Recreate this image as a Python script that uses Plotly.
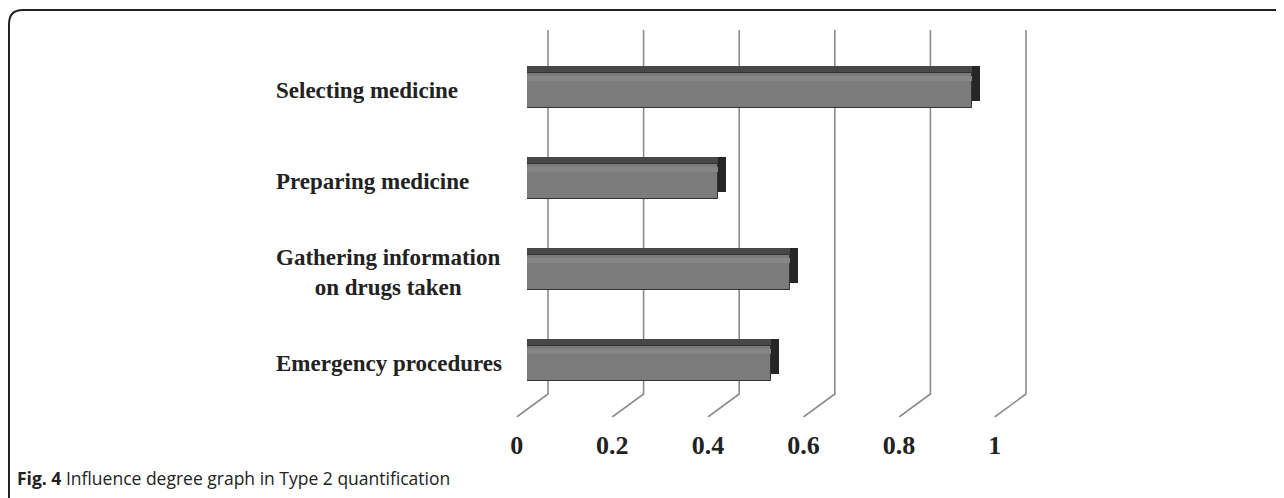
import plotly.graph_objects as go

# ---- data ----
CATEGORIES = ["Emergency procedures", "Gathering information<br>on drugs taken",
              "Preparing medicine", "Selecting medicine"]  # bottom -> top
VALUES = [0.51, 0.55, 0.40, 0.93]
TICK_VALUES = [0, 0.2, 0.4, 0.6, 0.8, 1]
TICK_LABELS = ["0", "0.2", "0.4", "0.6", "0.8", "1"]
CAPTION = "<b>Fig. 4</b> Influence degree graph in Type 2 quantification"

# ---- layout constants (screen pixels) ----
PAGE_OFF = 8            # default body margin of the html page
W, H = 1284 - PAGE_OFF, 498 - PAGE_OFF
SCALE = 478.0           # px per unit
FLOOR_X0 = 516.7        # front floor position of value 0
WALL_X0 = 548.0         # back wall position of value 0
FRONT_X0 = 527.0        # bar front face position of value 0
BACK_X0 = 535.0         # bar back face position of value 0
WALL_TOP, WALL_BOT, FLOOR_Y = 30.0, 394.0, 417.0


def fx(p):
    return (p - PAGE_OFF) / W


def fy(p):
    return 1 - (p - PAGE_OFF) / H


DEPTH_DX = (WALL_X0 - FLOOR_X0) / SCALE
WALL_BOT_FRAC = (FLOOR_Y - WALL_BOT) / (FLOOR_Y - WALL_TOP)

# wall + floor lines
lx, ly = [], []
for v in TICK_VALUES:
    lx += [v, v + DEPTH_DX, v + DEPTH_DX, None]
    ly += [0, WALL_BOT_FRAC, 1, None]

fig = go.Figure()
fig.add_trace(go.Scatter(x=lx, y=ly, mode="lines", xaxis="x", yaxis="y",
                         line=dict(color="#8c8c8c", width=1.6),
                         hoverinfo="skip", showlegend=False))

# dark side face (shifted back)
fig.add_trace(go.Bar(y=CATEGORIES, x=VALUES, orientation="h", xaxis="x2", yaxis="y2",
                     width=0.385, marker=dict(color="#262626", line=dict(width=0)),
                     hoverinfo="skip", showlegend=False))
# top face (shifted up only)
fig.add_trace(go.Bar(y=CATEGORIES, x=VALUES, orientation="h", xaxis="x3", yaxis="y2",
                     width=0.385, marker=dict(color="#474747", line=dict(width=0)),
                     hoverinfo="skip", showlegend=False))
# front face
fig.add_trace(go.Bar(y=CATEGORIES, x=VALUES, orientation="h", xaxis="x3", yaxis="y3",
                     width=0.385, marker=dict(color="#7b7b7b", line=dict(color="#333333", width=1)),
                     showlegend=False))
# highlight band on front face
fig.add_trace(go.Bar(y=CATEGORIES, x=VALUES, orientation="h", xaxis="x3", yaxis="y4",
                     width=0.055, marker=dict(color="#868686", line=dict(width=0)),
                     hoverinfo="skip", showlegend=False))

cat_axis = dict(type="category", categoryorder="array", categoryarray=CATEGORIES,
                range=[-0.5, 3.5], visible=False, fixedrange=True)

fig.update_layout(
    width=W, height=H,
    margin=dict(l=0, r=0, t=0, b=0),
    paper_bgcolor="white", plot_bgcolor="rgba(0,0,0,0)",
    bargap=0,
    xaxis=dict(domain=[fx(FLOOR_X0 - 0.1 * SCALE), fx(FLOOR_X0 + 1.2 * SCALE)],
               range=[-0.1, 1.2], showgrid=False, zeroline=False, showline=False,
               tickvals=TICK_VALUES, ticktext=TICK_LABELS, ticks="", ticklabelstandoff=10,
               tickfont=dict(family="Liberation Serif", size=26, color="#222222", weight="bold"),
               anchor="y"),
    yaxis=dict(domain=[fy(FLOOR_Y), fy(WALL_TOP)], range=[0, 1], visible=False),
    xaxis2=dict(domain=[fx(BACK_X0), fx(BACK_X0 + SCALE)], range=[0, 1], visible=False, anchor="y2"),
    yaxis2=dict(domain=[fy(402), fy(38)], anchor="x2", **cat_axis),
    xaxis3=dict(domain=[fx(FRONT_X0), fx(FRONT_X0 + SCALE)], range=[0, 1], visible=False, anchor="y3"),
    yaxis3=dict(domain=[fy(409), fy(45)], anchor="x3", **cat_axis),
    yaxis4=dict(domain=[fy(409 - 12), fy(45 - 12)], anchor="x3", **cat_axis),
)

# category labels
for c in CATEGORIES:
    fig.add_annotation(xref="paper", yref="y3", x=fx(274), y=c, text=c,
                       xanchor="left", yanchor="middle", align="center", showarrow=False,
                       font=dict(family="Liberation Serif", size=23, color="#222222", weight="bold"))

# caption
fig.add_annotation(xref="paper", yref="paper", x=fx(15), y=fy(478), text=CAPTION,
                   xanchor="left", yanchor="middle", showarrow=False,
                   font=dict(family="Open Sans", size=17.5, color="#222222"))

# frame (top + left edges with rounded corner)
fig.add_shape(type="path", xref="paper", yref="paper",
              path=f"M {fx(9)},{fy(498)} L {fx(9)},{fy(24)} Q {fx(9)},{fy(10)} {fx(23)},{fy(10)} L 1,{fy(10)}",
              line=dict(color="#222222", width=2))

fig.write_html("out.html")
